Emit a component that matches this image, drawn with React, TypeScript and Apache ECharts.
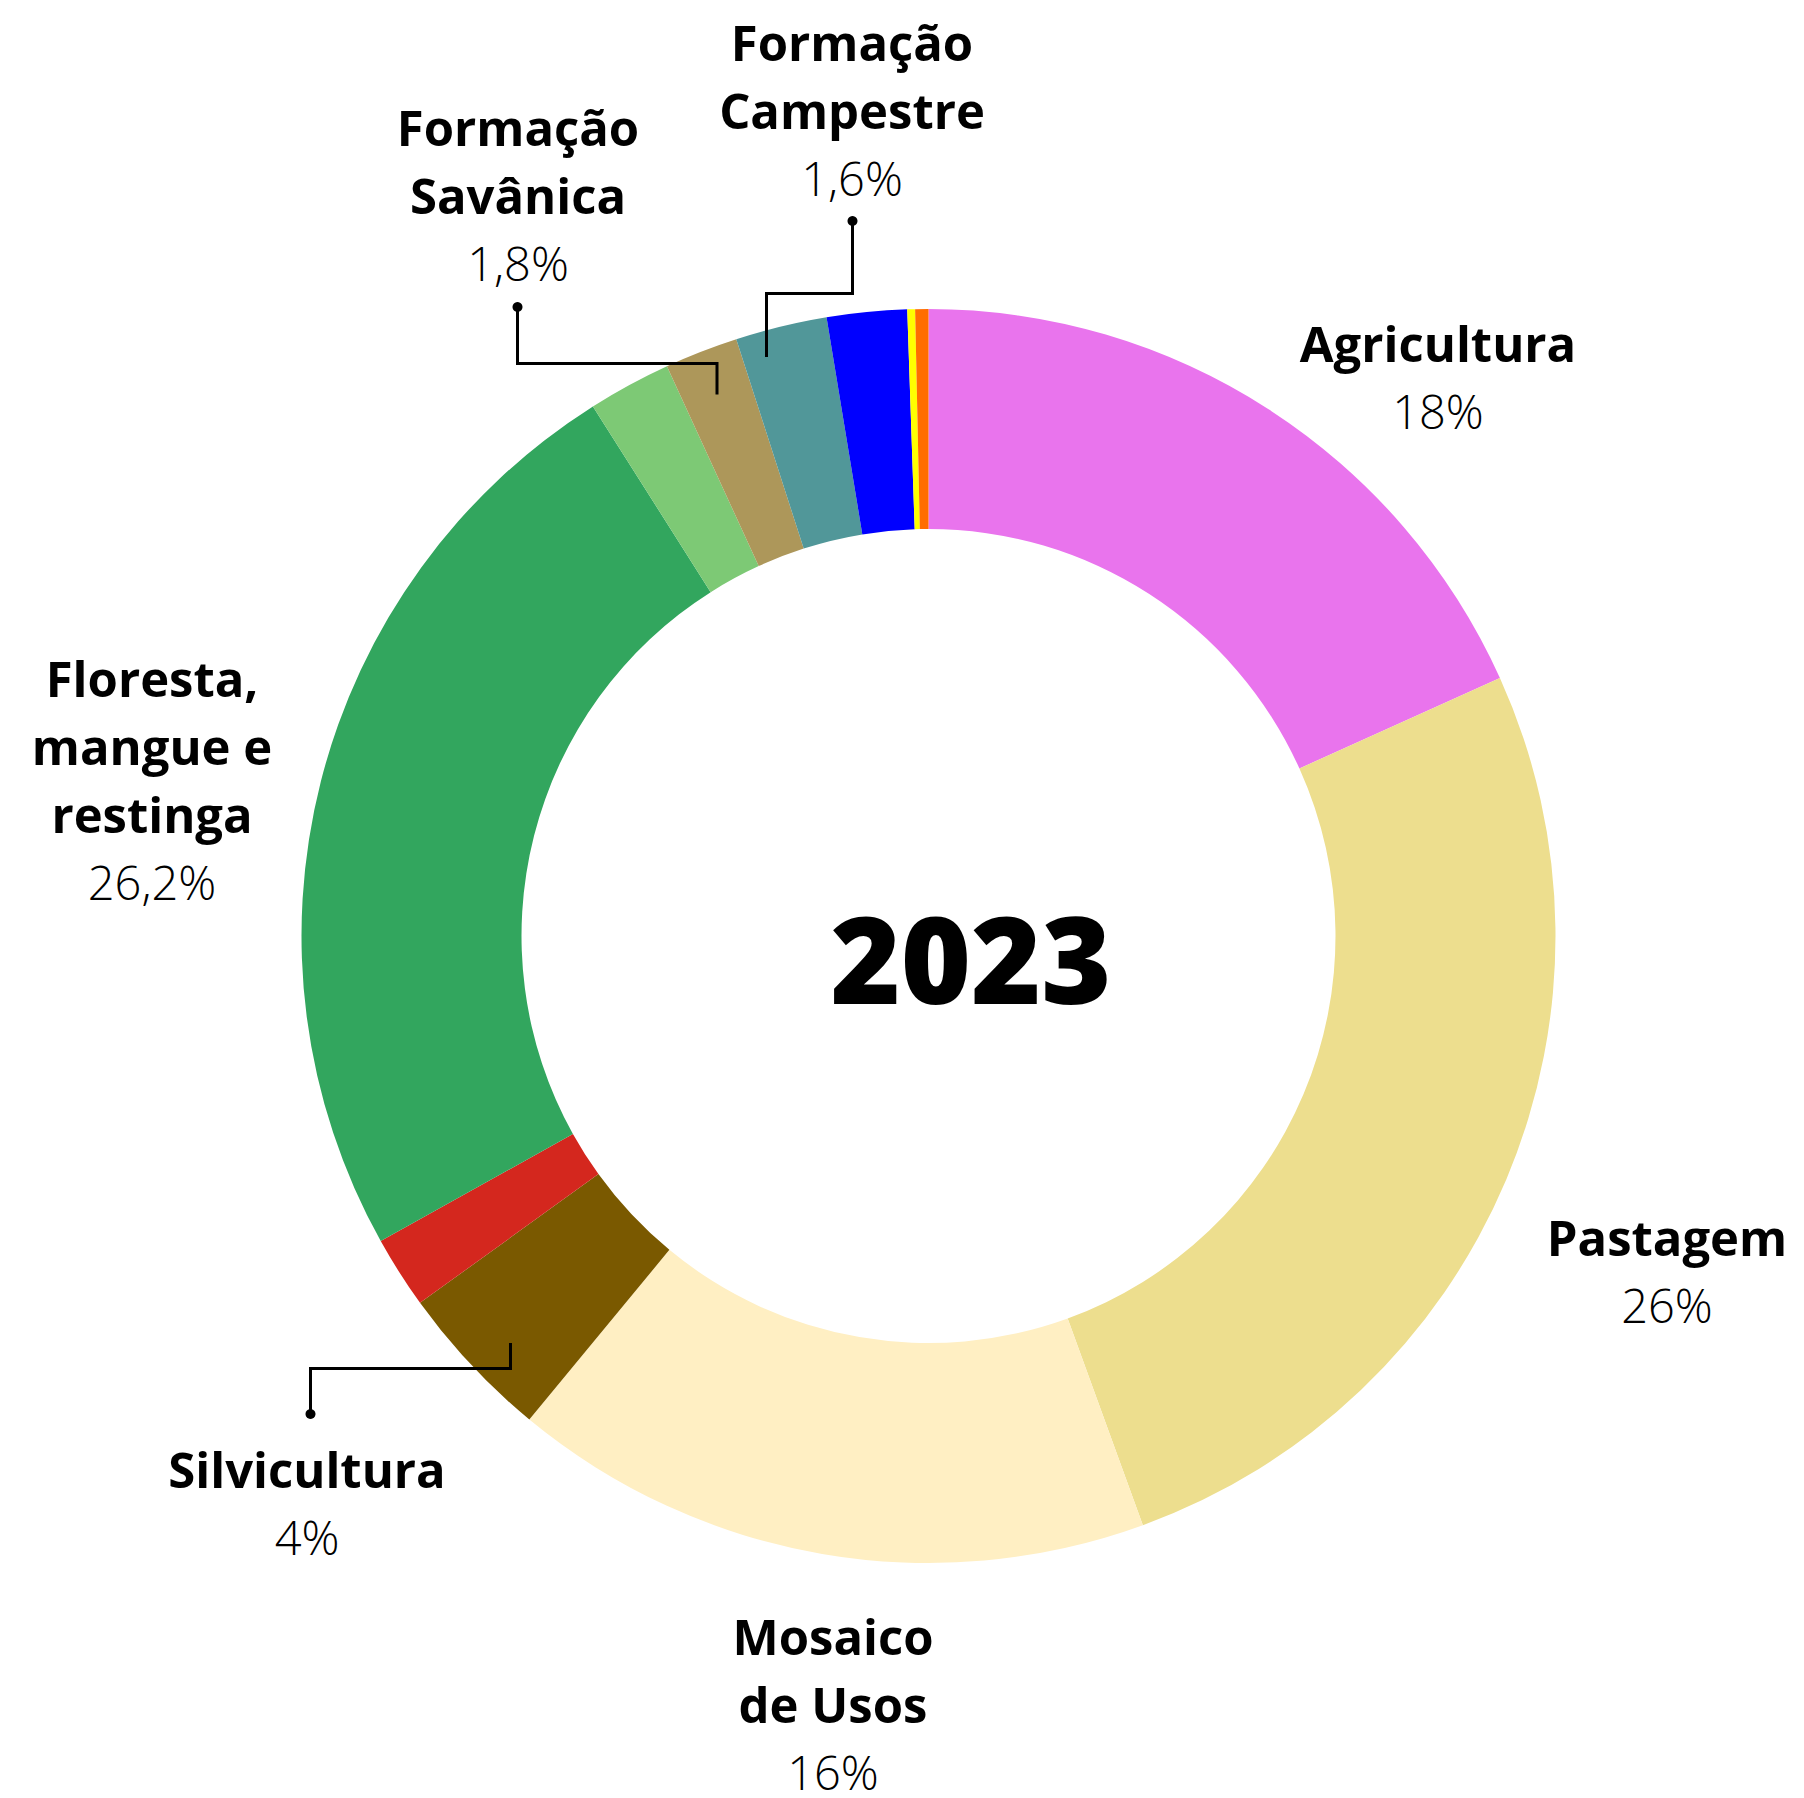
import React, { useEffect, useRef } from "react";
import * as echarts from "echarts";

// ---- data ----
const categories = [
  "Agricultura",
  "Pastagem",
  "Mosaico de Usos",
  "Silvicultura",
  "Área urbanizada",
  "Floresta, mangue e restinga",
  "Outra formação natural",
  "Formação Savânica",
  "Formação Campestre",
  "Rio, lago e oceano",
  "Praia e duna",
  "Outras áreas não vegetadas",
];
const values = [18.25, 26.2, 16.54, 4.07, 1.86, 24.1, 2.14, 1.89, 2.36, 2.06, 0.2, 0.34];
const labelNames = [
  "Agricultura",
  "Pastagem",
  "Mosaico\nde Usos",
  "Silvicultura",
  "",
  "Floresta,\nmangue e\nrestinga",
  "",
  "Formação\nSavânica",
  "Formação\nCampestre",
  "",
  "",
  "",
];
const labelPcts = ["18%", "26%", "16%", "4%", "", "26,2%", "", "1,8%", "1,6%", "", "", ""];
const centerTitle = "2023";

// ---- styles / layout ----
const colors = [
  "#E974ED",
  "#EDDE8E",
  "#FFEFC3",
  "#7A5900",
  "#D4271E",
  "#32A65E",
  "#7DC975",
  "#AD975A",
  "#519799",
  "#0000FF",
  "#FFFF00",
  "#FF6D00",
];
const labelPos: (number[] | null)[] = [
  [1438, 377],
  [1667, 1271],
  [833, 1704],
  [307, 1503],
  null,
  [152, 780],
  null,
  [518, 195],
  [852, 110],
  null,
  null,
  null,
];
const leaders: number[][][] = [
  [[852.5, 221], [852.5, 293.5], [766.5, 293.5], [766.5, 357]],
  [[517.5, 307], [517.5, 363.5], [717, 363.5], [717, 394.5]],
  [[310.5, 1414], [310.5, 1368.5], [510.5, 1368.5], [510.5, 1343]],
];

const FONT = "'Open Sans', 'Noto Sans', sans-serif";

export default function App() {
  const ref = useRef<HTMLDivElement>(null);
  useEffect(() => {
    if (!ref.current) return;
    const chart = echarts.init(ref.current, null, { renderer: "svg" });
    const data = categories.map((name, i) => ({
      name,
      value: values[i],
      itemStyle: { color: colors[i] },
      label: {
        show: labelNames[i] !== "",
        formatter: `{n|${labelNames[i]}}\n{p|${labelPcts[i]}}`,
      },
      labelLine: { show: false },
    }));
    const graphics: any[] = [];
    leaders.forEach((pts) => {
      graphics.push({
        type: "polyline",
        shape: { points: pts },
        style: { stroke: "#000", lineWidth: 3, fill: null },
        z: 100,
      });
      graphics.push({
        type: "circle",
        shape: { cx: pts[0][0], cy: pts[0][1], r: 5 },
        style: { fill: "#000" },
        z: 100,
      });
    });
    graphics.push({
      type: "text",
      x: 971,
      y: 957,
      style: {
        text: centerTitle,
        fontFamily: FONT,
        fontWeight: 800,
        fontSize: 120,
        fill: "#000",
        align: "center",
        verticalAlign: "middle",
      },
      z: 100,
    });
    chart.setOption({
      animation: false,
      backgroundColor: "#fff",
      graphic: graphics,
      series: [
        {
          type: "pie",
          center: [928.5, 936],
          radius: [407, 627],
          startAngle: 90,
          clockwise: true,
          avoidLabelOverlap: false,
          data,
          label: {
            position: "outside",
            align: "center",
            verticalAlign: "middle",
            rich: {
              n: {
                fontFamily: FONT,
                fontWeight: 700,
                fontSize: 49,
                lineHeight: 68,
                color: "#000",
                align: "center",
              },
              p: {
                fontFamily: FONT,
                fontWeight: 300,
                fontSize: 47,
                lineHeight: 68,
                color: "#000",
                align: "center",
              },
            },
          },
          labelLayout: (params: any) => {
            const p = labelPos[params.dataIndex];
            if (!p) return {};
            return { x: p[0], y: p[1], align: "center", verticalAlign: "middle", hideOverlap: false };
          },
          emphasis: { disabled: true },
        },
      ],
    });
    return () => chart.dispose();
  }, []);
  return (
    <div
      ref={ref}
      style={{ position: "absolute", left: 0, top: 0, width: 1804, height: 1798 }}
    />
  );
}
